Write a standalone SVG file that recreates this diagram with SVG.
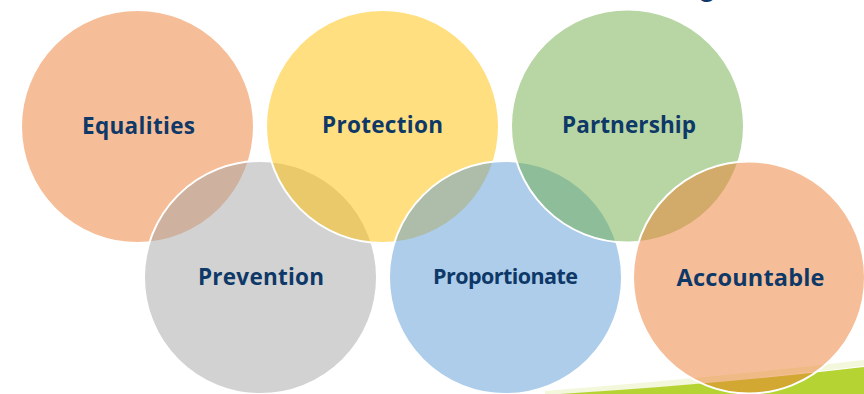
<svg xmlns="http://www.w3.org/2000/svg" width="864" height="394" viewBox="0 0 864 394">
  <style>
    .c { stroke: #ffffff; stroke-width: 2; fill-opacity: 0.5; }
    .lbl { font-family: "Open Sans", "Liberation Sans", sans-serif; font-weight: 700; fill: #0e3867; text-anchor: middle; font-variant-ligatures: none; }
  </style>
  <rect width="864" height="394" fill="#ffffff"/>
  <g id="title-fragment">
    <text x="707" y="-3" font-family="Lato, 'Liberation Sans', sans-serif" font-size="30" fill="#0e3867" text-anchor="middle">g</text>
  </g>
  <g id="swoosh">
    <path d="M 545 394 Q 712 381 864 363" fill="none" stroke="#eef4cc" stroke-width="6" opacity="0.7"/>
    <path d="M 560 394 Q 720 384 864 367 L 864 394 Z" fill="#b6d334"/>
  </g>
  <g id="equalities">
    <circle class="c" cx="137.5" cy="126.5" r="116.5" fill="#ed7d31"/>
    <text class="lbl" x="138.5" y="134" font-size="22.5" textLength="113" lengthAdjust="spacing">Equalities</text>
  </g>
  <g id="prevention">
    <circle class="c" cx="260.5" cy="277.5" r="116.5" fill="#a5a5a5"/>
    <text class="lbl" x="261" y="285" font-size="22.5" textLength="126" lengthAdjust="spacing">Prevention</text>
  </g>
  <g id="protection">
    <circle class="c" cx="382.5" cy="126.5" r="116.5" fill="#ffc000"/>
    <text class="lbl" x="382.5" y="133" font-size="22.5" textLength="121" lengthAdjust="spacing">Protection</text>
  </g>
  <g id="proportionate">
    <circle class="c" cx="505.5" cy="277.5" r="116.5" fill="#5b9bd5"/>
    <text class="lbl" x="505.5" y="284" font-size="21.5" textLength="145" lengthAdjust="spacing">Proportionate</text>
  </g>
  <g id="partnership">
    <circle class="c" cx="627.5" cy="126" r="116.5" fill="#70ad47"/>
    <text class="lbl" x="629" y="133" font-size="22.5" textLength="134" lengthAdjust="spacing">Partnership</text>
  </g>
  <g id="accountable">
    <circle class="c" cx="749" cy="277.5" r="116" fill="#ed7d31"/>
    <text class="lbl" x="750.5" y="285.5" font-size="23.5" textLength="148" lengthAdjust="spacing">Accountable</text>
  </g>
  <g id="connectors"/>
</svg>
